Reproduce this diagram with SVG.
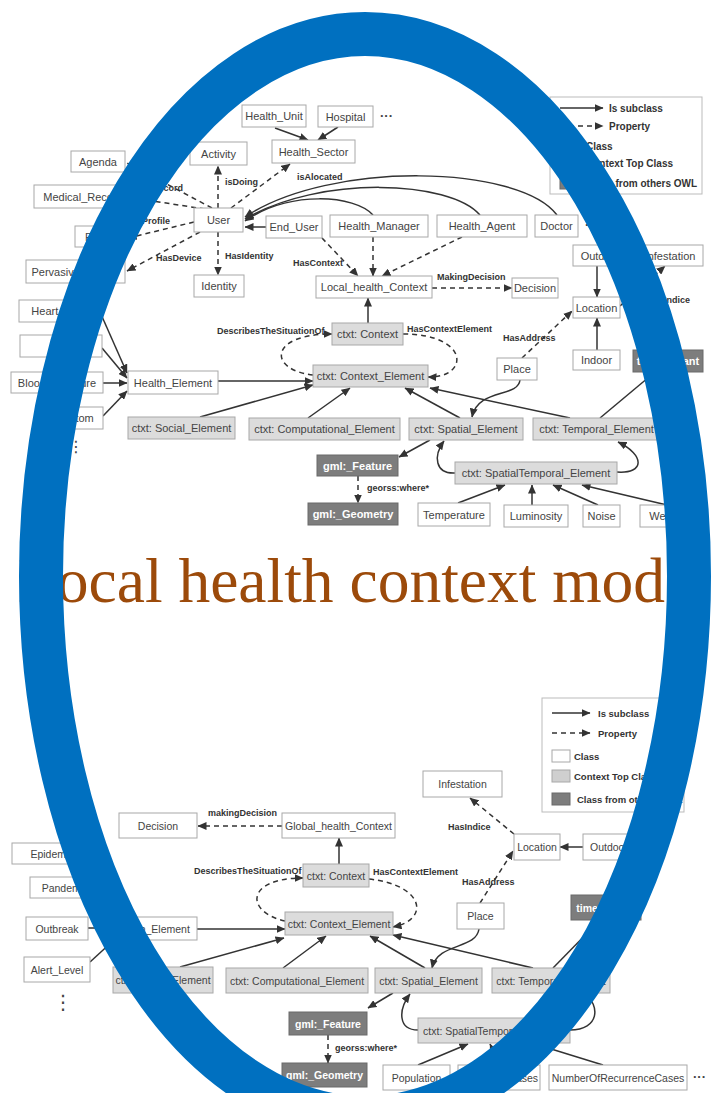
<svg xmlns="http://www.w3.org/2000/svg" width="713" height="1093" viewBox="0 0 713 1093">
<style>
text{font-family:"Liberation Sans",Arial,sans-serif}
.w rect{fill:#fff;stroke:#a8a8a8;stroke-width:1}
.g rect{fill:#dcdcdc;stroke:#a8a8a8;stroke-width:1}
.k rect{fill:#7d7d7d;stroke:#6a6a6a;stroke-width:1}
.w text,.g text{font-size:11px;fill:#444;text-anchor:middle}
.k text{font-size:11px;fill:#fff;font-weight:bold;text-anchor:middle}
.b .w text,.b .g text,.b .k text{font-size:10.5px}
.s{fill:none;stroke:#333;stroke-width:1.5;marker-end:url(#ah)}
.d{fill:none;stroke:#333;stroke-width:1.5;stroke-dasharray:5 4;marker-end:url(#ah)}
.lb{font-size:9px;font-weight:bold;fill:#333}
.lg{font-size:10px;font-weight:bold;fill:#333}
.lg2{font-size:9.5px;font-weight:bold;fill:#333}
.dots{font-size:13px;fill:#444;font-weight:bold}
.vdots{font-family:"DejaVu Sans",sans-serif;fill:#444;text-anchor:middle}
</style>
<defs>
<marker id="ah" markerWidth="9" markerHeight="8" refX="8.5" refY="4" orient="auto" markerUnits="userSpaceOnUse">
<path d="M0,0 L9,4 L0,8 z" fill="#333"/>
</marker>
</defs>
<rect width="713" height="1093" fill="#fff"/>

<g id="connectors-top">
<path class="s" d="M275,128 L308,140"/>
<path class="s" d="M338,127 L318,140"/>
<path class="s" d="M266,227 L245,227"/>
<path class="s" d="M373,215 C355,195 290,190 245,221"/>
<path class="s" d="M480,215 C450,180 320,175 245,219"/>
<path class="s" d="M557,215 C520,165 330,160 245,217"/>
<path class="s" d="M100,312 L127,373"/>
<path class="s" d="M102,348 L127,378"/>
<path class="s" d="M103,383 L127,383"/>
<path class="s" d="M103,416 L127,391"/>
<path class="s" d="M218,381 L313,381"/>
<path class="s" d="M200,417 L313,385"/>
<path class="s" d="M308,418 L350,388"/>
<path class="s" d="M460,418 L405,388"/>
<path class="s" d="M570,418 L430,388"/>
<path class="s" d="M520,380 C518,398 478,388 472,417"/>
<path class="s" d="M600,418 L655,372"/>
<path class="s" d="M368,323 L368,298"/>
<path class="s" d="M597,266 L597,297"/>
<path class="s" d="M597,350 L597,318"/>
<path class="s" d="M430,440 L399,457"/>
<path class="s" d="M455,473 C435,474 433,456 444,441"/>
<path class="s" d="M617,472 C645,474 645,455 618,442"/>
<path class="s" d="M458,503 L505,485"/>
<path class="s" d="M532,505 L532,485"/>
<path class="s" d="M598,505 L553,485"/>
<path class="s" d="M667,505 L582,485"/>
<path class="d" d="M218,208 L218,166"/>
<path class="d" d="M231,208 L290,164"/>
<path class="d" d="M212,208 L127,163"/>
<path class="d" d="M205,209 L133,198"/>
<path class="d" d="M194,222 L128,238"/>
<path class="d" d="M200,232 L127,271"/>
<path class="d" d="M218,232 L218,275"/>
<path class="d" d="M322,238 L358,276"/>
<path class="d" d="M373,237 L373,276"/>
<path class="d" d="M462,237 L382,276"/>
<path class="d" d="M432,288 L512,288"/>
<path class="d" d="M403,334 C470,334 470,378 428,377"/>
<path class="d" d="M313,375 C268,370 268,334 332,334"/>
<path class="d" d="M522,358 L572,311"/>
<path class="d" d="M620,306 L665,266"/>
<path class="d" d="M358,476 L358,503"/>
</g>

<g id="labels-top">
<text class="lb" x="132" y="166" textLength="38" lengthAdjust="spacingAndGlyphs">HasAgenda</text>
<text class="lb" x="183" y="191" text-anchor="end">HasRecord</text>
<text class="lb" x="225" y="185">isDoing</text>
<text class="lb" x="297" y="180">isAlocated</text>
<text class="lb" x="170" y="224" text-anchor="end">HasProfile</text>
<text class="lb" x="156" y="261">HasDevice</text>
<text class="lb" x="225" y="259">HasIdentity</text>
<text class="lb" x="293" y="266">HasContext</text>
<text class="lb" x="437" y="280">MakingDecision</text>
<text class="lb" x="217" y="334">DescribesTheSituationOf</text>
<text class="lb" x="407" y="332">HasContextElement</text>
<text class="lb" x="503" y="341">HasAddress</text>
<text class="lb" x="690" y="303" text-anchor="end">HasIndice</text>
<text class="lb" x="367" y="491">georss:where*</text>
</g>

<g id="top">
<g id="t-health-unit" class="w"><rect x="242" y="105" width="64" height="22"/><text x="274" y="120">Health_Unit</text></g>
<g id="t-hospital" class="w"><rect x="318" y="106" width="55" height="21"/><text x="345.5" y="120.5">Hospital</text></g>
<text class="dots" x="380" y="120">···</text>
<g id="t-health-sector" class="w"><rect x="272" y="140" width="83" height="23"/><text x="313.5" y="155.5">Health_Sector</text></g>
<g id="t-activity" class="w"><rect x="190" y="142" width="57" height="23"/><text x="218.5" y="157.5">Activity</text></g>
<g id="t-agenda" class="w"><rect x="71" y="151" width="54" height="21"/><text x="98" y="165.5">Agenda</text></g>
<g id="t-medical-record" class="w"><rect x="34" y="185" width="98" height="23"/><text x="83" y="200.5">Medical_Record</text></g>
<g id="t-user" class="w"><rect x="194" y="208" width="49" height="24"/><text x="218.5" y="224">User</text></g>
<g id="t-end-user" class="w"><rect x="266" y="216" width="56" height="22"/><text x="294" y="231">End_User</text></g>
<g id="t-health-manager" class="w"><rect x="330" y="215" width="98" height="22"/><text x="379" y="230">Health_Manager</text></g>
<g id="t-health-agent" class="w"><rect x="437" y="215" width="90" height="22"/><text x="482" y="230">Health_Agent</text></g>
<g id="t-doctor" class="w"><rect x="535" y="215" width="43" height="22"/><text x="556.5" y="230">Doctor</text></g>
<text class="dots" x="585" y="229">···</text>
<g id="t-profile" class="w"><rect x="75" y="226" width="51" height="21"/><text x="100.5" y="240.5">Profile</text></g>
<g id="t-pervasive" class="w"><rect x="26" y="260" width="99" height="23"/><text x="75.5" y="275.5">Pervasive_Device</text></g>
<g id="t-identity" class="w"><rect x="194" y="275" width="50" height="22"/><text x="219" y="290">Identity</text></g>
<g id="t-local-context" class="w"><rect x="316" y="276" width="116" height="22"/><text x="374" y="291">Local_health_Context</text></g>
<g id="t-decision" class="w"><rect x="512" y="278" width="46" height="20"/><text x="535" y="292">Decision</text></g>
<g id="t-outdoor" class="w"><rect x="573" y="245" width="55" height="21"/><text x="600.5" y="259.5">Outdoor</text></g>
<g id="t-infestation" class="w"><rect x="637" y="245" width="66" height="21"/><text x="670" y="259.5">Infestation</text></g>
<g id="t-location" class="w"><rect x="573" y="297" width="47" height="21"/><text x="596.5" y="311.5">Location</text></g>
<g id="t-indoor" class="w"><rect x="573" y="350" width="47" height="20"/><text x="596.5" y="364">Indoor</text></g>
<g id="t-time-instant" class="k"><rect x="633" y="350" width="70" height="22"/><text x="668" y="365">time:Instant</text></g>
<g id="t-ctxt-context" class="g"><rect x="332" y="323" width="71" height="22"/><text x="367.5" y="338">ctxt: Context</text></g>
<g id="t-ctxt-context-element" class="g"><rect x="313" y="365" width="115" height="22"/><text x="370.5" y="380">ctxt: Context_Element</text></g>
<g id="t-place" class="w"><rect x="497" y="358" width="40" height="22"/><text x="517" y="373">Place</text></g>
<g id="t-health-element" class="w"><rect x="128" y="371" width="90" height="23"/><text x="173" y="386.5">Health_Element</text></g>
<g id="t-heart" class="w"><rect x="19" y="300" width="81" height="22"/><text x="59.5" y="315">Heart_Rate</text></g>
<g id="t-hidden" class="w"><rect x="20" y="335" width="82" height="22"/></g>
<g id="t-blood" class="w"><rect x="11" y="372" width="92" height="21"/><text x="57" y="386.5">Blood_Pressure</text></g>
<g id="t-symptom" class="w"><rect x="38" y="407" width="65" height="22"/><text x="70.5" y="422">Symptom</text></g>
<text class="vdots" x="76" y="452" font-size="16">⋮</text>
<g id="t-social" class="g"><rect x="128" y="417" width="107" height="22"/><text x="181.5" y="432">ctxt: Social_Element</text></g>
<g id="t-computational" class="g"><rect x="249" y="418" width="151" height="22"/><text x="324.5" y="433">ctxt: Computational_Element</text></g>
<g id="t-spatial" class="g"><rect x="409" y="418" width="114" height="22"/><text x="466" y="433">ctxt: Spatial_Element</text></g>
<g id="t-temporal" class="g"><rect x="533" y="418" width="127" height="22"/><text x="596.5" y="433">ctxt: Temporal_Element</text></g>
<g id="t-gml-feature" class="k"><rect x="317" y="455" width="81" height="21"/><text x="357.5" y="469.5">gml:_Feature</text></g>
<g id="t-gml-geometry" class="k"><rect x="308" y="503" width="90" height="22"/><text x="353" y="518">gml:_Geometry</text></g>
<g id="t-spatiotemporal" class="g"><rect x="455" y="462" width="162" height="22"/><text x="536" y="477">ctxt: SpatialTemporal_Element</text></g>
<g id="t-temperature" class="w"><rect x="418" y="503" width="72" height="23"/><text x="454" y="518.5">Temperature</text></g>
<g id="t-luminosity" class="w"><rect x="504" y="505" width="64" height="22"/><text x="536" y="520">Luminosity</text></g>
<g id="t-noise" class="w"><rect x="583" y="505" width="37" height="22"/><text x="601.5" y="520">Noise</text></g>
<g id="t-weather" class="w"><rect x="640" y="505" width="60" height="22"/><text x="670" y="520">Weather</text></g>
</g>

<g id="legend-top">
<rect x="550" y="97" width="152" height="97" fill="#fff" stroke="#bbb"/>
<path class="s" d="M560,108 L603,108"/>
<text class="lg" x="609" y="111.5">Is subclass</text>
<path class="d" d="M560,126 L603,126"/>
<text class="lg" x="609" y="129.5">Property</text>
<rect x="560" y="140" width="20" height="12" fill="#fff" stroke="#a8a8a8"/>
<text class="lg" x="586" y="150">Class</text>
<rect x="560" y="157" width="20" height="12" fill="#dcdcdc" stroke="#a8a8a8"/>
<text class="lg" x="586" y="167">Context Top Class</text>
<rect x="560" y="177" width="20" height="12" fill="#7d7d7d" stroke="#6a6a6a"/>
<text class="lg" x="586" y="187">Class from others OWL</text>
</g>

<g id="connectors-bottom">
<path class="s" d="M339,864 L339,838"/>
<path class="s" d="M583,847 L560,847"/>
<path class="s" d="M479,929 C476,950 438,942 432,968"/>
<path class="s" d="M197,929 L285,929"/>
<path class="s" d="M88,928 L108,928"/>
<path class="s" d="M90,962 L114,940"/>
<path class="s" d="M92,853 L115,917"/>
<path class="s" d="M100,887 L118,917"/>
<path class="s" d="M180,967 L284,938"/>
<path class="s" d="M283,968 L326,936"/>
<path class="s" d="M425,968 L370,936"/>
<path class="s" d="M533,968 L393,935"/>
<path class="s" d="M553,968 L600,920"/>
<path class="s" d="M393,993 L368,1008"/>
<path class="s" d="M418,1030 C398,1030 398,1010 410,994"/>
<path class="s" d="M570,1030 C600,1030 600,1005 585,994"/>
<path class="s" d="M418,1065 L468,1044"/>
<path class="s" d="M500,1065 L490,1044"/>
<path class="s" d="M603,1065 L535,1044"/>
<path class="d" d="M282,826 L198,826"/>
<path class="d" d="M285,921 C245,912 245,878 303,878"/>
<path class="d" d="M369,879 C425,885 430,920 393,927"/>
<path class="d" d="M480,903 L513,851"/>
<path class="d" d="M514,834 L470,798"/>
<path class="d" d="M328,1035 L328,1063"/>
</g>

<g id="labels-bottom">
<text class="lb" x="448" y="830">HasIndice</text>
<text class="lb" x="208" y="816">makingDecision</text>
<text class="lb" x="194" y="874">DescribesTheSituationOf</text>
<text class="lb" x="373" y="875">HasContextElement</text>
<text class="lb" x="462" y="885">HasAddress</text>
<text class="lb" x="335" y="1051">georss:where*</text>
</g>

<g id="bottom" class="b">
<g id="b-infestation" class="w"><rect x="423" y="771" width="79" height="26"/><text x="462.5" y="788">Infestation</text></g>
<g id="b-location" class="w"><rect x="514" y="834" width="46" height="26"/><text x="537" y="851">Location</text></g>
<g id="b-outdoor" class="w"><rect x="583" y="834" width="52" height="26"/><text x="609" y="851">Outdoor</text></g>
<g id="b-decision" class="w"><rect x="119" y="813" width="78" height="25"/><text x="158" y="829.5">Decision</text></g>
<g id="b-global-context" class="w"><rect x="282" y="813" width="113" height="25"/><text x="338.5" y="829.5">Global_health_Context</text></g>
<g id="b-ctxt-context" class="g"><rect x="303" y="864" width="66" height="23"/><text x="336" y="879.5">ctxt: Context</text></g>
<g id="b-ctxt-context-element" class="g"><rect x="285" y="912" width="108" height="23"/><text x="339" y="927.5">ctxt: Context_Element</text></g>
<g id="b-place" class="w"><rect x="457" y="903" width="47" height="26"/><text x="480.5" y="920">Place</text></g>
<g id="b-time-instant" class="k"><rect x="571" y="895" width="70" height="25"/><text x="606" y="911.5">time:Instant</text></g>
<g id="b-epidemic" class="w"><rect x="12" y="843" width="80" height="21"/><text x="52" y="857.5">Epidemic</text></g>
<g id="b-pandemic" class="w"><rect x="30" y="877" width="70" height="21"/><text x="65" y="891.5">Pandemic</text></g>
<g id="b-outbreak" class="w"><rect x="26" y="917" width="62" height="23"/><text x="57" y="932.5">Outbreak</text></g>
<g id="b-health-element" class="w"><rect x="108" y="917" width="89" height="23"/><text x="152.5" y="932.5">Health_Element</text></g>
<g id="b-alert-level" class="w"><rect x="24" y="957" width="66" height="25"/><text x="57" y="973.5">Alert_Level</text></g>
<text class="vdots" x="63" y="1009" font-size="20">⋮</text>
<g id="b-social" class="g"><rect x="113" y="967" width="100" height="26"/><text x="163" y="984">ctxt: Social_Element</text></g>
<g id="b-computational" class="g"><rect x="226" y="968" width="142" height="25"/><text x="297" y="984.5">ctxt: Computational_Element</text></g>
<g id="b-spatial" class="g"><rect x="375" y="968" width="107" height="25"/><text x="428.5" y="984.5">ctxt: Spatial_Element</text></g>
<g id="b-temporal" class="g"><rect x="492" y="968" width="118" height="25"/><text x="551" y="984.5">ctxt: Temporal_Element</text></g>
<g id="b-gml-feature" class="k"><rect x="289" y="1012" width="78" height="23"/><text x="328" y="1027.5">gml:_Feature</text></g>
<g id="b-gml-geometry" class="k"><rect x="282" y="1063" width="85" height="24"/><text x="324.5" y="1079">gml:_Geometry</text></g>
<g id="b-spatiotemporal" class="g"><rect x="418" y="1018" width="152" height="25"/><text x="494" y="1034.5">ctxt: SpatialTemporal_Element</text></g>
<g id="b-population" class="w"><rect x="383" y="1065" width="67" height="25"/><text x="416.5" y="1081.5">Population</text></g>
<g id="b-number-cases" class="w"><rect x="458" y="1065" width="82" height="25"/><text x="499" y="1081.5">NumberOfCases</text></g>
<g id="b-recurrence" class="w"><rect x="549" y="1065" width="138" height="25"/><text x="618" y="1081.5">NumberOfRecurrenceCases</text></g>
<text class="dots" x="693" y="1081">···</text>
</g>

<g id="legend-bottom">
<rect x="542" y="698" width="142" height="114" fill="#fff" stroke="#bbb"/>
<path class="s" d="M552,713 L590,713"/>
<text class="lg2" x="598" y="716.5">Is subclass</text>
<path class="d" d="M552,733 L590,733"/>
<text class="lg2" x="598" y="736.5">Property</text>
<rect x="552" y="750" width="18" height="12" fill="#fff" stroke="#a8a8a8"/>
<text class="lg2" x="574" y="759.5">Class</text>
<rect x="552" y="770" width="18" height="12" fill="#cfcfcf" stroke="#a8a8a8"/>
<text class="lg2" x="574" y="779.5">Context Top Class</text>
<rect x="552" y="793" width="18" height="12" fill="#7d7d7d" stroke="#6a6a6a"/>
<text class="lg2" x="577" y="802.5">Class from others OWL</text>
</g>

<text id="title" x="18" y="602" style="font-family:'Liberation Serif','Times New Roman',serif;font-size:63.5px;fill:#9C4A0A">Local health context model</text>

<ellipse id="oval" cx="365" cy="576" rx="324" ry="542" fill="none" stroke="#0070C0" stroke-width="44"/>
</svg>
